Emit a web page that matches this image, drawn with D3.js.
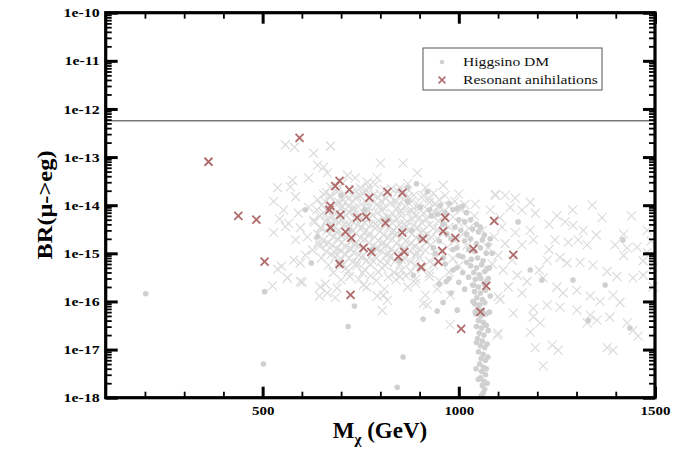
<!DOCTYPE html>
<html>
<head>
<meta charset="utf-8">
<script src="https://cdn.jsdelivr.net/npm/d3@7"></script>
<style>
  body { margin: 0; background: #fff; }
  svg { display: block; }
  text { font-family: "Liberation Serif", "Times New Roman", serif; }
</style>
</head>
<body>
<div id="chart"></div>
<script>
// ---- data: [M_chi (GeV), BR(mu->e gamma)] ----
var yMajor = [1e-18, 1e-17, 1e-16, 1e-15, 1e-14, 1e-13, 1e-12, 1e-11, 1e-10];
var yLabels = ["1e-18", "1e-17", "1e-16", "1e-15", "1e-14", "1e-13", "1e-12", "1e-11", "1e-10"];
var xMajor = [500, 1000, 1500];
var xLabels = ["500", "1000", "1500"];
var xMinor = [200, 300, 400, 600, 700, 800, 900, 1100, 1200, 1300, 1400];
var megLimit = 5.7e-13;

var legendLabels = ["Higgsino DM", "Resonant anihilations"];

// light grey crosses
var higgsinoCross = [
  [558,1.8e-13],[581,1.6e-13],[630,1.2e-13],[673,1.7e-13],[640,6.8e-14],[655,6.2e-14],
  [800,7.5e-14],[858,7.5e-14],[894,4.7e-14],[576,3.3e-14],[571,2.4e-14],[617,3.7e-14],
  [665,4.7e-14],[716,4.2e-14],[736,3.7e-14],[767,3e-14],[792,3.7e-14],[538,2.3e-14],
  [528,1.2e-14],[543,5.2e-15],[558,3.6e-15],[528,2.7e-15],[538,4.7e-16],[548,5.4e-16],
  [563,3.1e-16],[525,2.1e-16],[584,1.5e-14],[553,7.9e-15],[591,6.8e-15],[617,9e-15],
  [630,4.9e-15],[566,4.2e-15],[596,3.4e-15],[647,3.4e-15],[614,2.2e-15],[642,1.7e-15],
  [627,1.17e-15],[596,6.3e-16],[601,2.5e-16],[647,2e-16],[665,1.5e-16],[584,1.9e-15],
  [609,9.2e-16],[579,7.2e-16],
  // dense core
  [673,2.4e-14],[705,2.9e-14],[749,2.3e-14],[787,2.7e-14],[828,2.2e-14],[870,2.8e-14],[915,2.3e-14],[960,2.6e-14],
  [655,1.7e-14],[690,1.9e-14],[728,1.6e-14],[765,2e-14],[800,1.7e-14],[845,1.9e-14],[885,1.6e-14],[935,1.8e-14],[1000,1.7e-14],
  [640,1.3e-14],[672,1.45e-14],[705,1.3e-14],[740,1.5e-14],[778,1.25e-14],[815,1.4e-14],[858,1.3e-14],[905,1.45e-14],[950,1.3e-14],[990,1.2e-14],
  [650,1e-14],[685,1.1e-14],[718,9.5e-15],[752,1.05e-14],[790,1e-14],[826,1.1e-14],[862,9.5e-15],[898,1e-14],[940,1.08e-14],[975,9.5e-15],[1015,1.02e-14],
  [638,8e-15],[668,7.5e-15],[700,8.5e-15],[735,7.8e-15],[768,8.2e-15],[805,7.6e-15],[840,8.3e-15],[880,7.7e-15],[920,8e-15],[962,7.5e-15],[1005,8e-15],
  [645,6e-15],[678,5.7e-15],[712,6.3e-15],[745,5.8e-15],[780,6.2e-15],[818,5.6e-15],[852,6.1e-15],[890,5.9e-15],[930,6.3e-15],[985,5.7e-15],[1040,6e-15],
  [632,4.4e-15],[662,4.7e-15],[695,4.3e-15],[728,4.6e-15],[760,4.4e-15],[795,4.8e-15],[830,4.3e-15],[868,4.6e-15],[905,4.4e-15],[948,4.7e-15],[1000,4.3e-15],
  [650,3.3e-15],[683,3.5e-15],[718,3.2e-15],[752,3.5e-15],[786,3.3e-15],[822,3.6e-15],[857,3.2e-15],[895,3.4e-15],[935,3.3e-15],[975,3.5e-15],[1025,3.3e-15],
  [640,2.5e-15],[672,2.6e-15],[705,2.4e-15],[738,2.6e-15],[772,2.5e-15],[808,2.4e-15],[842,2.6e-15],[880,2.5e-15],[918,2.4e-15],[958,2.6e-15],[1010,2.5e-15],
  [655,1.9e-15],[690,2e-15],[725,1.8e-15],[760,1.95e-15],[795,1.85e-15],[830,2e-15],[865,1.8e-15],[905,1.9e-15],[945,2e-15],[990,1.8e-15],
  [645,1.4e-15],[678,1.45e-15],[712,1.35e-15],[745,1.5e-15],[780,1.4e-15],[815,1.45e-15],[850,1.35e-15],[888,1.4e-15],[928,1.5e-15],[970,1.35e-15],[1020,1.45e-15],
  [662,1.1e-15],[698,1.15e-15],[732,1.05e-15],[765,1.1e-15],[800,1.15e-15],[835,1.05e-15],[875,1.1e-15],[915,1.15e-15],[955,1.05e-15],
  [650,8e-16],[685,8.4e-16],[720,7.8e-16],[752,8.2e-16],[790,8e-16],[825,8.3e-16],[862,7.8e-16],[900,8.1e-16],[940,8e-16],[985,7.8e-16],
  [668,5.7e-16],[705,6e-16],[740,5.5e-16],[775,5.8e-16],[812,5.6e-16],[850,5.9e-16],[890,5.6e-16],[935,5.8e-16],[1000,5.5e-16],
  [680,4e-16],[718,4.2e-16],[755,3.9e-16],[795,4.1e-16],[835,4e-16],[878,4.2e-16],[925,3.9e-16],[975,4.1e-16],
  [700,2.8e-16],[745,2.9e-16],[790,2.7e-16],[840,2.8e-16],[890,2.9e-16],[950,2.7e-16],
  [690,1.9e-16],[765,2e-16],[810,1.8e-16],[870,2e-16],[945,1.8e-16],[978,1.35e-16],
  [690,2.2e-14],[735,2.1e-14],[770,2.4e-14],[810,2.1e-14],[850,2.3e-14],
  [672,1.6e-14],[710,1.7e-14],[748,1.55e-14],[783,1.65e-14],[822,1.6e-14],[865,1.7e-14],[910,1.6e-14],[965,1.6e-14],
  [660,1.2e-14],[695,1.15e-14],[730,1.2e-14],[765,1.15e-14],[802,1.2e-14],[840,1.17e-14],[880,1.2e-14],[925,1.15e-14],
  [670,9e-15],[702,9.3e-15],[735,8.8e-15],[770,9.2e-15],[808,8.9e-15],[845,9.1e-15],[885,8.8e-15],[945,9e-15],
  [655,7e-15],[688,6.8e-15],[722,7.1e-15],[758,6.9e-15],[793,7e-15],[830,6.8e-15],[870,7.1e-15],[910,6.9e-15],[950,7e-15],
  [665,5.2e-15],[700,5.1e-15],[735,5.3e-15],[770,5.1e-15],[808,5.3e-15],[842,5.1e-15],[880,5.2e-15],[918,5.1e-15],
  [675,3.9e-15],[708,4e-15],[742,3.8e-15],[776,4e-15],[812,3.9e-15],[848,4e-15],[885,3.8e-15],[925,3.9e-15],[965,4e-15],
  [662,2.9e-15],[695,3e-15],[730,2.9e-15],[765,3e-15],[800,2.9e-15],[835,3e-15],[872,2.9e-15],[910,3e-15],
  [680,2.2e-15],[715,2.2e-15],[750,2.1e-15],[785,2.2e-15],[820,2.1e-15],[855,2.2e-15],[892,2.1e-15],[930,2.2e-15],
  [668,1.65e-15],[702,1.7e-15],[738,1.6e-15],[772,1.65e-15],[808,1.7e-15],[842,1.6e-15],[878,1.65e-15],[918,1.7e-15],
  [690,1.25e-15],[725,1.2e-15],[758,1.28e-15],[792,1.22e-15],[828,1.25e-15],[862,1.2e-15],[900,1.25e-15],
  [675,9.5e-16],[710,9.8e-16],[745,9.3e-16],[780,9.6e-16],[815,9.4e-16],[850,9.7e-16],[888,9.3e-16],
  [695,6.8e-16],[730,6.6e-16],[765,7e-16],[800,6.7e-16],[838,6.9e-16],[878,6.6e-16],
  [662,1.85e-14],[718,1.35e-14],[756,1.75e-14],[795,1.45e-14],[838,1.25e-14],[872,1.5e-14],[925,1.35e-14],
  [690,7.2e-15],[728,8.6e-15],[762,6.6e-15],[798,9.4e-15],[852,7.3e-15],[898,8.6e-15],[938,7.2e-15],
  [680,4.9e-15],[718,4.1e-15],[752,5.4e-15],[788,4.1e-15],[825,5.5e-15],[862,4.1e-15],[900,5.5e-15],[962,4.5e-15],
  [688,2.75e-15],[722,3.6e-15],[758,2.7e-15],[792,3.7e-15],[828,2.75e-15],[865,3.5e-15],[902,2.7e-15],[945,3.1e-15],
  [662,1.55e-15],[700,2.35e-15],[735,1.55e-15],[770,2.3e-15],[805,1.55e-15],[840,2.35e-15],[875,1.5e-15],[912,2.3e-15],
  [685,1.02e-15],[722,1.3e-15],[755,9e-16],[790,1.32e-15],[822,9.9e-16],[858,1.3e-15],[895,1e-15],
  [700,7.5e-16],[740,6.3e-16],[778,7.4e-16],[818,6.4e-16],[855,7.3e-16],[925,6.9e-16],
  [712,4.8e-16],[760,4.6e-16],[805,4.9e-16],[855,4.5e-16],[905,4.7e-16],[722,3.3e-16],[775,3.4e-16],[820,3.2e-16],[865,3.4e-16],
  // lower scatter
  [808,1.35e-16],[818,1.05e-16],[805,6.5e-17],[909,9e-17],[915,1.35e-16],[920,8.5e-17],
  [978,3.3e-17],[1098,2e-17],[890,2.4e-16],[850,3.3e-16],[925,3.3e-16],[596,2.6e-16],
  [563,3.1e-16],[660,2.3e-16],[645,1.3e-16],[685,1.2e-16],[792,1.3e-16],[757,2.2e-16],
  // between core and tail
  [1042,1.05e-14],[1080,8e-15],[1118,1.6e-14],[1093,1.6e-14],[1004,9e-15],[1060,3e-15],
  [1090,2.2e-15],[1075,1.3e-15],[1100,9e-16],[1085,6e-16],[1110,3.5e-15],[1113,4.5e-16],[1105,1.1e-16],
  // right tail
  [1093,1.7e-14],[1144,1.4e-14],[1182,1.15e-14],[1161,7.9e-15],[1195,6.8e-15],[1131,9e-15],
  [1105,5.5e-15],[1144,2.7e-15],[1182,3e-15],[1161,1.5e-15],[1190,1.9e-15],[1118,1.6e-15],
  [1136,7.2e-16],[1149,3.5e-16],[1174,2.6e-16],[1126,2e-16],[1100,1.26e-16],[1161,1.5e-16],
  [1190,7.2e-17],[1139,5.7e-17],[1100,2.2e-17],[1182,2.3e-17],[1238,1.24e-17],[1253,9.7e-18],
  [1215,4.6e-18],[1195,1.1e-17],[1271,4.5e-15],[1291,3.8e-15],[1317,3e-15],[1365,5.5e-15],
  [1245,1.9e-15],[1279,1.7e-15],[1304,1.9e-15],[1327,1.5e-15],[1398,1.5e-15],[1429,1.3e-15],
  [1454,1.35e-15],[1480,1.05e-15],[1225,7.2e-16],[1258,8.2e-16],[1276,6.3e-16],[1309,6.5e-16],
  [1342,5.7e-16],[1378,4.2e-16],[1403,3.3e-16],[1444,3.1e-16],[1470,3.5e-16],[1495,2e-16],
  [1215,3.1e-16],[1250,2e-16],[1266,1.5e-16],[1301,1.7e-16],[1335,1.3e-16],[1360,1e-16],
  [1393,1.35e-16],[1411,9.5e-17],[1225,8.4e-17],[1258,7.6e-17],[1301,6.6e-17],[1335,5.2e-17],
  [1352,4.1e-17],[1385,4.7e-17],[1429,3.6e-17],[1444,2.5e-17],[1457,1.9e-17],[1378,1.1e-17],
  [1393,9.7e-18],[1327,3.6e-17],[1190,4.8e-17],[1207,3.6e-17],[1340,1e-14],[1290,8e-15],
  [1440,6e-15],[1480,3e-15],[1250,6e-15],[1230,4e-15],[1420,2.5e-15],[1490,1.8e-15],
  [1470,7e-16],[1495,5e-16],[1420,9e-16],[1350,2.4e-15],[1230,1.2e-15],[1205,4.5e-16]
];

// light grey dots
var higgsinoDot = [
  [202,1.45e-16],[505,1.6e-16],[502,5e-18],[843,1.65e-18],[624,6.3e-16],[734,8e-17],
  [718,3e-17],[858,7e-18],[945,6.3e-17],[960,9.5e-17],[996,6.6e-17],[968,2.6e-16],
  [884,3.5e-16],[1151,4.5e-15],[1182,4.5e-16],[1212,2.8e-16],[1291,2.8e-16],[1373,2.2e-16],
  [1418,1.9e-15],[1330,4e-17],[1436,2.8e-17],[892,2.8e-14],[902,9e-15],[996,8.5e-15],
  [1009,9.5e-15],[953,1e-14],[609,8e-15],[909,4.3e-17],
  // column around 1050 GeV
  [1005,3e-15],[1020,2.5e-15],[1035,3.2e-15],[1050,2.8e-15],[1065,2.4e-15],[1015,1.8e-15],
  [1030,2e-15],[1045,1.6e-15],[1060,1.9e-15],[1075,1.5e-15],[995,1.3e-15],[1025,1.2e-15],
  [1040,1.1e-15],[1055,1.3e-15],[1070,1e-15],[1010,8.5e-16],[1032,7.5e-16],[1048,8e-16],
  [1062,7e-16],[1030,5.5e-16],[1045,5e-16],[1058,5.8e-16],[1072,4.8e-16],[1038,4e-16],
  [1052,3.6e-16],[1066,4.2e-16],[1025,3.2e-16],[1042,2.9e-16],[1056,3e-16],[1070,2.6e-16],
  [1035,2.2e-16],[1050,2e-16],[1064,2.3e-16],[1040,1.6e-16],[1055,1.5e-16],[1068,1.7e-16],
  [1046,1.2e-16],[1060,1.1e-16],[1040,9e-17],[1053,8.5e-17],[1066,9.5e-17],[1048,7e-17],
  [1060,6.5e-17],[1043,5.5e-17],[1056,5e-17],[1068,5.5e-17],[1050,4e-17],[1062,3.7e-17],
  [1045,3e-17],[1058,2.8e-17],[1070,3.2e-17],[1052,2.2e-17],[1064,2e-17],[1048,1.7e-17],
  [1060,1.5e-17],[1055,1.2e-17],[1066,1.1e-17],[1050,9e-18],[1062,8e-18],[1057,6.5e-18],
  [1068,6e-18],[1053,5e-18],[1063,4.3e-18],[1058,3.5e-18],[1068,3e-18],[1055,2.6e-18],
  [1064,2.2e-18],[1060,1.8e-18],[1066,1.5e-18],[1062,1.25e-18],[1057,1.1e-18],
  [965,6e-16],[985,4.5e-16],[975,3e-16],[950,2.3e-16],[995,5e-16],[1010,4e-16],
  [1000,2.5e-16],[1015,1.8e-16],[980,1.5e-16],
  [925,8e-15],[945,6.5e-15],[965,7e-15],[985,8e-15],[1020,7e-15],[1030,5e-15],[1045,4e-15],
  [1055,3.5e-15],[1015,4.5e-15],[990,3.5e-15],[970,2.5e-15],[950,1.8e-15],[985,1.2e-15],
  [1000,9e-16],[935,1.3e-15],[960,8e-16],[1020,6.5e-16],[1080,2e-15],[1085,1e-15],[1078,5e-16],
  [1075,3e-16],[1080,1.3e-16],[1078,6e-17],[1075,2.5e-17],[1072,1.3e-17],[1074,7e-18],
  [1045,1.4e-17],[1042,6e-17],[1038,2.2e-16],[1036,1e-16],[1044,4e-18],[1050,2.4e-18],
  [1072,2e-18],[1070,4e-18],
  // dots inside the core
  [700,1.6e-14],[760,8e-15],[820,5e-15],[870,1.2e-14],[930,6e-15],[960,4e-15],
  [900,2e-15],[780,1.2e-15],[720,3e-15],[850,7e-16],[940,1e-15],[980,2e-15],
  [640,2.2e-15],[880,3e-15],[1000,5e-15],[975,1.1e-14],[920,1.9e-14],[870,2.3e-14]
];

// resonant annihilations (red crosses)
var resonant = [
  [594,2.5e-13],[362,8e-14],[438,6e-15],[484,5e-15],[505,6.7e-16],
  [696,3.2e-14],[685,2.5e-14],[721,2.1e-14],[772,1.43e-14],[818,1.9e-14],[856,1.8e-14],
  [673,9.7e-15],[670,8e-15],[698,6.3e-15],[741,5.5e-15],[764,5.7e-15],[813,4.3e-15],
  [673,3.4e-15],[711,2.8e-15],[726,2.1e-15],[856,2.7e-15],[909,2e-15],[965,5.5e-15],
  [960,2.9e-15],[991,2.1e-15],[1090,4.7e-15],[757,1.3e-15],[777,1.07e-15],[846,8.5e-16],
  [861,1.07e-15],[958,1.13e-15],[1037,1.24e-15],[696,6e-16],[904,5.2e-16],[948,6.7e-16],
  [1070,2.1e-16],[724,1.37e-16],[1055,6.1e-17],[1006,2.7e-17],[1139,9.3e-16]
];

var W = 673, H = 453;
var plotL = 105.7, plotR = 655, plotT = 12.7, plotB = 397.7;

var svg = d3.select("#chart").append("svg")
    .attr("width", W)
    .attr("height", H);

var x = d3.scaleLinear().domain([100, 1500]).range([plotL, plotR]);
var y = d3.scaleLog().domain([1e-18, 1e-10]).range([plotB, plotT]);

// minor ticks for the log axis: 2..9 in each decade
var yMinor = [];
yMajor.slice(0, -1).forEach(function (d) {
    for (var k = 2; k <= 9; k++) yMinor.push(d * k);
});

var crossPath = "M-4,-4L4,4M-4,4L4,-4";
var greyCross = "M-4.5,-4.5L4.5,4.5M-4.5,4.5L4.5,-4.5";

// points
svg.append("g").selectAll("path")
    .data(higgsinoCross)
    .enter().append("path")
    .attr("d", greyCross)
    .attr("transform", function (d) { return "translate(" + x(d[0]) + "," + y(d[1]) + ")"; })
    .attr("stroke", "#dcdcdc")
    .attr("stroke-width", 1.2)
    .attr("fill", "none");

svg.append("g").selectAll("circle")
    .data(higgsinoDot)
    .enter().append("circle")
    .attr("cx", function (d) { return x(d[0]); })
    .attr("cy", function (d) { return y(d[1]); })
    .attr("r", 2.8)
    .attr("fill", "#d0d0d0");

svg.append("g").selectAll("path")
    .data(resonant)
    .enter().append("path")
    .attr("d", crossPath)
    .attr("transform", function (d) { return "translate(" + x(d[0]) + "," + y(d[1]) + ")"; })
    .attr("stroke", "#b06a6a")
    .attr("stroke-width", 1.8)
    .attr("fill", "none");

// experimental limit
svg.append("line")
    .attr("x1", plotL).attr("x2", plotR)
    .attr("y1", y(megLimit)).attr("y2", y(megLimit))
    .attr("stroke", "#777")
    .attr("stroke-width", 1.4);

// axes (ticks point inward on all four sides)
function styleAxis(g, w) {
    g.select(".domain").remove();
    g.selectAll(".tick line").attr("stroke", "#000").attr("stroke-width", w);
}

svg.append("g").attr("transform", "translate(" + plotL + ",0)")
    .call(d3.axisLeft(y).tickValues(yMinor).tickSize(-6).tickFormat(""))
    .call(styleAxis, 1.8);
svg.append("g").attr("transform", "translate(" + plotR + ",0)")
    .call(d3.axisRight(y).tickValues(yMinor).tickSize(-6).tickFormat(""))
    .call(styleAxis, 1.8);
svg.append("g").attr("transform", "translate(" + plotR + ",0)")
    .call(d3.axisRight(y).tickValues(yMajor).tickSize(-12).tickFormat(""))
    .call(styleAxis, 3);

var yAxisG = svg.append("g").attr("class", "y-axis")
    .attr("transform", "translate(" + plotL + ",0)")
    .call(d3.axisLeft(y).tickValues(yMajor).tickSize(-12).tickPadding(6)
        .tickFormat(function (d, i) { return yLabels[i]; }))
    .call(styleAxis, 3);

svg.append("g").attr("transform", "translate(0," + plotB + ")")
    .call(d3.axisBottom(x).tickValues(xMinor).tickSize(-6).tickFormat(""))
    .call(styleAxis, 1.8);
svg.append("g").attr("transform", "translate(0," + plotT + ")")
    .call(d3.axisTop(x).tickValues(xMinor).tickSize(-6).tickFormat(""))
    .call(styleAxis, 1.8);
svg.append("g").attr("transform", "translate(0," + plotT + ")")
    .call(d3.axisTop(x).tickValues(xMajor).tickSize(-11).tickFormat(""))
    .call(styleAxis, 3);

var xAxisG = svg.append("g").attr("class", "x-axis")
    .attr("transform", "translate(0," + plotB + ")")
    .call(d3.axisBottom(x).tickValues(xMajor).tickSize(-11).tickPadding(8)
        .tickFormat(function (d, i) { return xLabels[i]; }))
    .call(styleAxis, 3);

// tick label fonts; the original lettering is a bit wider than Times
function widen(sel, f) {
    sel.each(function () {
        var len = this.getComputedTextLength();
        d3.select(this).attr("textLength", len * f).attr("lengthAdjust", "spacingAndGlyphs");
    });
}
yAxisG.selectAll("text")
    .attr("font-family", "Liberation Serif").attr("font-weight", "bold")
    .attr("font-size", 13).attr("fill", "#000");
widen(yAxisG.selectAll("text"), 1.22);
xAxisG.selectAll("text")
    .attr("font-family", "Liberation Serif").attr("font-weight", "bold")
    .attr("font-size", 13).attr("fill", "#000");
widen(xAxisG.selectAll("text"), 1.15);

// frame
svg.append("rect")
    .attr("x", plotL).attr("y", plotT)
    .attr("width", plotR - plotL).attr("height", plotB - plotT)
    .attr("fill", "none")
    .attr("stroke", "#000")
    .attr("stroke-width", 3.2);

// axis titles
var xt = svg.append("text")
    .attr("x", 380).attr("y", 438)
    .attr("text-anchor", "middle")
    .attr("font-weight", "bold")
    .attr("font-size", 23);
xt.append("tspan").text("M");
xt.append("tspan").attr("font-size", 15).attr("dy", 6).text("\u03c7");
xt.append("tspan").attr("dy", -6).text(" (GeV)");

svg.append("text")
    .attr("transform", "translate(52,205) rotate(-90)")
    .attr("text-anchor", "middle")
    .attr("font-weight", "bold")
    .attr("font-size", 20)
    .text("BR(\u03bc->eg)")
    .call(widen, 1.22);

// legend
var lg = svg.append("g");
lg.append("rect")
    .attr("x", 423).attr("y", 48)
    .attr("width", 179).attr("height", 42)
    .attr("fill", "#fff")
    .attr("stroke", "#555")
    .attr("stroke-width", 1);
lg.append("circle")
    .attr("cx", 442).attr("cy", 62).attr("r", 2.3)
    .attr("fill", "#cfcfcf");
lg.append("path")
    .attr("d", crossPath)
    .attr("transform", "translate(442,80) scale(0.85)")
    .attr("stroke", "#b06a6a").attr("stroke-width", 1.8);
lg.selectAll("text.leg")
    .data(legendLabels)
    .enter().append("text")
    .attr("class", "leg")
    .attr("x", 463)
    .attr("y", function (d, i) { return 66 + i * 18; })
    .attr("font-size", 13)
    .attr("fill", "#111")
    .text(function (d) { return d; })
    .call(widen, 1.2);
</script>
</body>
</html>
